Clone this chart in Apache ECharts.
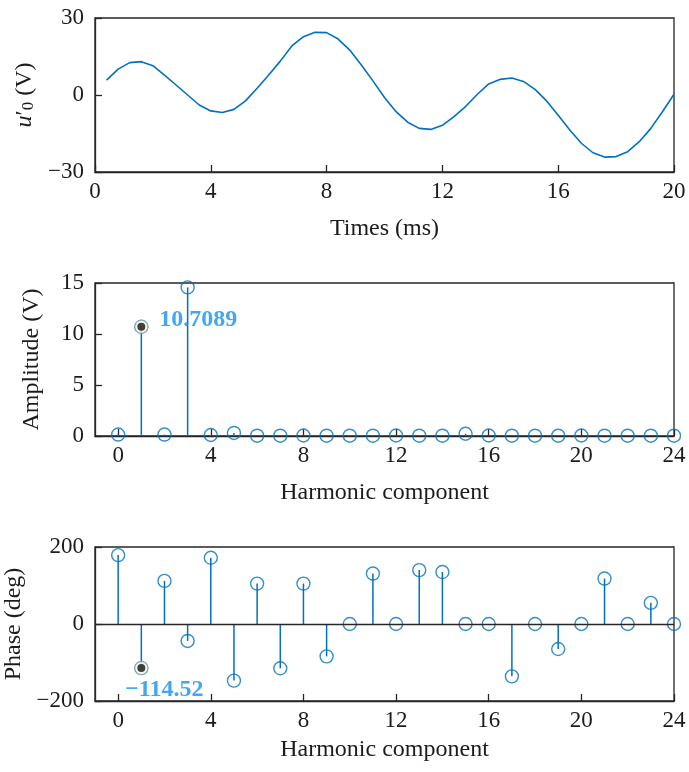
<!DOCTYPE html>
<html>
<head>
<meta charset="utf-8">
<script src="https://cdn.jsdelivr.net/npm/echarts@6/dist/echarts.min.js"></script>
<style>
  html, body { margin: 0; padding: 0; background: #fff; }
  #chart { width: 689px; height: 772px; }
</style>
</head>
<body>
<div id="chart"></div>
<script>
// Output voltage waveform samples (ms, V)
const times = [0.4, 0.8, 1.2, 1.6, 2.0, 2.4, 2.8, 3.2, 3.6, 4.0,
  4.4, 4.8, 5.2, 5.6, 6.0, 6.4, 6.8, 7.2, 7.6, 8.0,
  8.4, 8.8, 9.2, 9.6, 10.0, 10.4, 10.8, 11.2, 11.6, 12.0,
  12.4, 12.8, 13.2, 13.6, 14.0, 14.4, 14.8, 15.2, 15.6, 16.0,
  16.4, 16.8, 17.2, 17.6, 18.0, 18.4, 18.8, 19.2, 19.6, 20.0];
const volts = [5.8, 10.1, 12.6, 13.0, 11.4, 7.7, 3.9, 0.0, -3.9, -6.2,
  -6.8, -5.6, -2.3, 2.6, 7.8, 13.2, 19.1, 22.7, 24.4, 24.3,
  21.8, 17.5, 11.7, 5.5, -1.0, -6.5, -10.6, -13.0, -13.4, -11.8,
  -8.4, -4.5, 0.2, 4.3, 6.1, 6.6, 5.3, 2.2, -2.3, -7.9,
  -13.6, -18.8, -22.5, -24.2, -24.0, -22.1, -18.2, -13.0, -6.5, 0.3];

// Harmonic spectrum
const harmonics = [0, 1, 2, 3, 4, 5, 6, 7, 8, 9, 10, 11, 12,
  13, 14, 15, 16, 17, 18, 19, 20, 21, 22, 23, 24];
const amplitude = [0.14, 10.7089, 0.14, 14.57, 0.1, 0.3, 0.03, 0.03, 0.05, 0.03, 0.03, 0.03, 0.05,
  0.03, 0.03, 0.22, 0.05, 0.03, 0.03, 0.03, 0.05, 0.03, 0.03, 0.03, 0.03];
const phase = [179, -114.52, 112, -44, 172, -147, 105, -115, 105, -84, 0, 131, 0,
  140, 135, 0, 0, -136, 0, -65, 0, 118, 0, 55, 0];

// Highlighted harmonic (data tip)
const tipHarmonic = 1;

const harmTicks = [0, 4, 8, 12, 16, 20, 24];

const BLUE = '#0072BD';
const INK = '#1c1c1c';
const FONT = 'Liberation Serif';
const minus = v => String(v).replace('-', '\u2212');

const tickFont = { fontFamily: FONT, fontSize: 23, color: INK };
const nameFont = { fontFamily: FONT, fontSize: 24, color: INK };
const axisLineStyle = { color: '#262626', width: 1.3 };

function gridBox(top, height) {
  return { left: 95, width: 579, top: top, height: height, show: true,
    outerBoundsMode: 'none', containLabel: false,
    borderColor: '#262626', borderWidth: 1.3, backgroundColor: 'transparent' };
}

function harmXAxis(gridIndex, nameGap) {
  return {
    gridIndex, type: 'value', min: -1, max: 24,
    name: 'Harmonic component', nameLocation: 'middle', nameGap,
    nameTextStyle: nameFont,
    axisLine: { show: true, onZero: false, lineStyle: axisLineStyle },
    axisTick: { show: true, inside: true, length: 7, customValues: harmTicks, lineStyle: axisLineStyle },
    axisLabel: Object.assign({ margin: 8, customValues: harmTicks }, tickFont),
    splitLine: { show: false }
  };
}

function valueYAxis(gridIndex, min, max, interval, name, extraNameStyle) {
  return {
    gridIndex, type: 'value', min, max, interval,
    name, nameLocation: 'middle', nameGap: 51,
    nameTextStyle: Object.assign({}, nameFont, extraNameStyle || {}),
    axisLine: { show: true, onZero: false, lineStyle: axisLineStyle },
    axisTick: { show: true, inside: true, length: 7, lineStyle: axisLineStyle },
    axisLabel: Object.assign({ margin: 11, formatter: minus }, tickFont),
    splitLine: { show: false }
  };
}

function stemSeries(xi, yi, values) {
  return {
    type: 'custom', xAxisIndex: xi, yAxisIndex: yi,
    data: harmonics.map((h, i) => [h, values[i]]),
    renderItem: function (params, api) {
      const x = api.value(0), y = api.value(1);
      const p0 = api.coord([x, 0]);
      const p1 = api.coord([x, y]);
      return { type: 'line', shape: { x1: p0[0], y1: p0[1], x2: p1[0], y2: p1[1] },
        style: { stroke: BLUE, lineWidth: 1.5 } };
    },
    z: 3, silent: true
  };
}

function markerSeries(xi, yi, values) {
  return {
    type: 'scatter', xAxisIndex: xi, yAxisIndex: yi,
    data: harmonics.map((h, i) => [h, values[i]]),
    symbol: 'circle', symbolSize: 13,
    itemStyle: { color: 'rgba(0,0,0,0)', borderColor: BLUE, borderWidth: 1.4 },
    z: 4, silent: true
  };
}

function tipSeries(xi, yi, values, labelOffset) {
  const pt = [[tipHarmonic, values[harmonics.indexOf(tipHarmonic)]]];
  return [
    { type: 'scatter', xAxisIndex: xi, yAxisIndex: yi, data: pt,
      symbol: 'circle', symbolSize: 13,
      itemStyle: { color: '#fbf7dc', borderColor: '#9aa9b0', borderWidth: 1 }, z: 5, silent: true },
    { type: 'scatter', xAxisIndex: xi, yAxisIndex: yi, data: pt,
      symbol: 'circle', symbolSize: 8,
      itemStyle: { color: '#111' }, z: 6, silent: true,
      label: { show: true, position: 'inside', offset: labelOffset,
        formatter: p => minus(p.value[1]),
        fontFamily: FONT, fontSize: 24, fontWeight: 'bold', color: '#1590e8' } }
  ];
}

const chart = echarts.init(document.getElementById('chart'), null, { renderer: 'canvas' });

chart.setOption({
  animation: false,
  backgroundColor: '#fff',
  grid: [gridBox(18, 154), gridBox(283, 153), gridBox(547, 154)],
  xAxis: [
    {
      gridIndex: 0, type: 'value', min: 0, max: 20, interval: 4,
      name: 'Times (ms)', nameLocation: 'middle', nameGap: 45, nameTextStyle: nameFont,
      axisLine: { show: true, onZero: false, lineStyle: axisLineStyle },
      axisTick: { show: true, inside: true, length: 7, lineStyle: axisLineStyle },
      axisLabel: Object.assign({ margin: 8 }, tickFont),
      splitLine: { show: false }
    },
    harmXAxis(1, 45),
    harmXAxis(2, 37)
  ],
  yAxis: [
    valueYAxis(0, -30, 30, 30, '{i|u}{p|\u2032}{s|0} (V)', {
      rich: {
        i: { fontFamily: FONT, fontSize: 24, fontStyle: 'italic', color: INK },
        p: { fontFamily: FONT, fontSize: 24, color: INK },
        s: { fontFamily: FONT, fontSize: 17, color: INK, verticalAlign: 'bottom', padding: [8, 0, 0, 0] }
      }
    }),
    valueYAxis(1, 0, 15, 5, 'Amplitude (V)'),
    valueYAxis(2, -200, 200, 200, 'Phase (deg)')
  ],
  series: [
    {
      type: 'line', xAxisIndex: 0, yAxisIndex: 0,
      data: times.map((t, i) => [t, volts[i]]),
      showSymbol: false, symbol: 'none',
      lineStyle: { color: BLUE, width: 1.6 }, silent: true
    },
    stemSeries(1, 1, amplitude),
    markerSeries(1, 1, amplitude),
    ...tipSeries(1, 1, amplitude, [57, -7]),
    Object.assign(stemSeries(2, 2, phase), {
      markLine: {
        silent: true, symbol: 'none', label: { show: false },
        lineStyle: { color: '#262626', width: 1.3, type: 'solid' },
        data: [{ yAxis: 0 }]
      }
    }),
    markerSeries(2, 2, phase),
    ...tipSeries(2, 2, phase, [23, 22])
  ]
});
</script>
</body>
</html>
